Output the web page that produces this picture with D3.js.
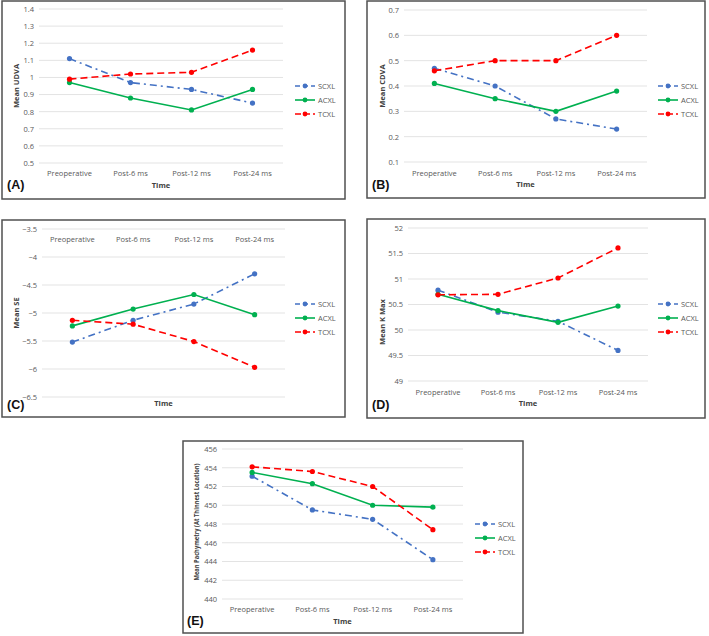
<!DOCTYPE html>
<html><head><meta charset="utf-8">
<script src="https://cdn.jsdelivr.net/npm/d3@7"></script>
<style>body{margin:0;background:#fff}svg{display:block}</style>
</head><body>
<svg id="c" width="709" height="636"></svg>
<script>
const categories = ["Preoperative","Post-6 ms","Post-12 ms","Post-24 ms"];
const seriesNames = ["SCXL","ACXL","TCXL"];

const udvaSCXL = [1.11, 0.97, 0.93, 0.85];
const udvaACXL = [0.97, 0.88, 0.81, 0.93];
const udvaTCXL = [0.99, 1.02, 1.03, 1.16];
const udvaTicks = [0.5,0.6,0.7,0.8,0.9,1,1.1,1.2,1.3,1.4];

const cdvaSCXL = [0.47, 0.40, 0.27, 0.23];
const cdvaACXL = [0.41, 0.35, 0.30, 0.38];
const cdvaTCXL = [0.46, 0.50, 0.50, 0.60];
const cdvaTicks = [0.1,0.2,0.3,0.4,0.5,0.6,0.7];

const seSCXL = [-5.52, -5.13, -4.84, -4.30];
const seACXL = [-5.23, -4.93, -4.67, -5.03];
const seTCXL = [-5.13, -5.20, -5.51, -5.97];
const seTicks = [-6.5,-6,-5.5,-5,-4.5,-4,-3.5];

const kmaxSCXL = [50.78, 50.35, 50.17, 49.60];
const kmaxACXL = [50.70, 50.38, 50.15, 50.47];
const kmaxTCXL = [50.69, 50.70, 51.02, 51.61];
const kmaxTicks = [49,49.5,50,50.5,51,51.5,52];

const pachSCXL = [453.1, 449.5, 448.5, 444.2];
const pachACXL = [453.5, 452.3, 450.0, 449.8];
const pachTCXL = [454.1, 453.6, 452.0, 447.4];
const pachTicks = [440,442,444,446,448,450,452,454,456];

const styles = {
  SCXL:{color:"#4472C4", dash:"7,4,2,4"},
  ACXL:{color:"#00B050", dash:null},
  TCXL:{color:"#FF0000", dash:"7,4"}
};

const svg = d3.select("#c");
const font = "'Open Sans', 'Liberation Sans', Arial, sans-serif";

function fmt(v){ return String(v).replace("-", "\u2212"); }

function panel(o){
  const g = svg.append("g");
  g.append("rect").attr("x",o.fx).attr("y",o.fy).attr("width",o.fw).attr("height",o.fh)
    .attr("fill","#fff").attr("stroke","#505050").attr("stroke-width",1.5);
  const x = d3.scaleBand().domain(categories).range([o.x0,o.x1]);
  const y = d3.scaleLinear().domain(o.domain).range([o.y1,o.y0]);
  g.selectAll(".grid").data(o.ticks).join("line")
    .attr("x1",o.x0).attr("x2",o.x1).attr("y1",d=>y(d)).attr("y2",d=>y(d))
    .attr("stroke","#e3e3e3").attr("stroke-width",1);
  const ya = d3.axisLeft(y).tickValues(o.ticks).tickSize(0).tickPadding(5).tickFormat(fmt);
  const yg = g.append("g").attr("transform",`translate(${o.x0},0)`).call(ya);
  yg.select(".domain").remove();
  yg.selectAll("text").attr("font-family",font).attr("font-size",7.5).attr("fill","#595959");
  const xa = d3.axisBottom(x).tickSize(0).tickPadding(0);
  const xg = g.append("g").attr("transform",`translate(0,${o.xLabY})`).call(xa);
  xg.select(".domain").remove();
  xg.selectAll("text").attr("font-family",font).attr("font-size",7.5).attr("fill","#595959").attr("dy","0.35em");
  g.append("text").attr("x",(o.x0+o.x1)/2).attr("y",o.timeY).attr("text-anchor","middle")
    .attr("dy","0.35em").attr("font-family",font).attr("font-weight","bold").attr("font-size",7.5)
    .attr("fill","#404040").text("Time");
  const yt = g.append("text").attr("transform",`translate(${o.yTitleX},${o.yTitleY}) rotate(-90)`)
    .attr("text-anchor","middle").attr("dy","0.35em").attr("font-family",font).attr("font-weight","bold")
    .attr("font-size",o.yTitleSize||7.5).attr("fill","#404040").text(o.yTitle);
  if (o.yTitleLen) yt.attr("textLength",o.yTitleLen).attr("lengthAdjust","spacingAndGlyphs");
  g.append("text").attr("x",o.labX).attr("y",o.labY).attr("dy","0.35em")
    .attr("font-family","'Liberation Sans', Arial, sans-serif").attr("font-weight","bold").attr("font-size",12.5)
    .attr("fill","#111").text(o.label);
  const line = d3.line().x((d,i)=>x(categories[i])+x.bandwidth()/2).y(d=>y(d));
  seriesNames.forEach((name,k)=>{
    const st = styles[name], vals = o.series[k];
    g.append("path").datum(vals).attr("d",line).attr("fill","none")
      .attr("stroke",st.color).attr("stroke-width",1.6).attr("stroke-dasharray",st.dash);
    g.selectAll(".pt"+name).data(vals).join("circle")
      .attr("cx",(d,i)=>x(categories[i])+x.bandwidth()/2).attr("cy",d=>y(d)).attr("r",2.6)
      .attr("fill",st.color);
    const ly = o.legY + k*14;
    g.append("line").attr("x1",o.legX).attr("x2",o.legX+20).attr("y1",ly).attr("y2",ly)
      .attr("stroke",st.color).attr("stroke-width",1.6).attr("stroke-dasharray",st.dash?(name==="SCXL"?"5,3":"6,3"):null);
    g.append("circle").attr("cx",o.legX+10).attr("cy",ly).attr("r",2.4).attr("fill",st.color);
    g.append("text").attr("x",o.legX+23).attr("y",ly).attr("dy","0.35em").attr("font-family",font)
      .attr("font-size",7.5).attr("fill","#595959").text(name);
  });
}

panel({fx:2,fy:1,fw:343,fh:198,x0:39,x1:283,y0:9,y1:163,domain:[0.5,1.4],ticks:udvaTicks,
  xLabY:173,timeY:185,yTitle:"Mean UDVA",yTitleX:16,yTitleY:86,label:"(A)",labX:7,labY:185,
  legX:295,legY:86,series:[udvaSCXL,udvaACXL,udvaTCXL]});
panel({fx:367,fy:1,fw:338,fh:197,x0:404,x1:647,y0:10,y1:162,domain:[0.1,0.7],ticks:cdvaTicks,
  xLabY:173,timeY:184,yTitle:"Mean CDVA",yTitleX:382,yTitleY:86,label:"(B)",labX:372,labY:185,
  legX:658,legY:86,series:[cdvaSCXL,cdvaACXL,cdvaTCXL]});
panel({fx:2,fy:220,fw:343,fh:197,x0:42,x1:285,y0:229,y1:397,domain:[-6.5,-3.5],ticks:seTicks,
  xLabY:239,timeY:403,yTitle:"Mean SE",yTitleX:16,yTitleY:313,label:"(C)",labX:7,labY:405,
  legX:295,legY:304,series:[seSCXL,seACXL,seTCXL]});
panel({fx:367,fy:219,fw:338,fh:199,x0:408,x1:648,y0:228,y1:381,domain:[49,52],ticks:kmaxTicks,
  xLabY:392,timeY:403,yTitle:"Mean K Max",yTitleX:382,yTitleY:322,label:"(D)",labX:372,labY:405,
  legX:658,legY:304,series:[kmaxSCXL,kmaxACXL,kmaxTCXL]});
panel({fx:183,fy:441,fw:340,fh:192,x0:222,x1:463,y0:449,y1:599,domain:[440,456],ticks:pachTicks,
  xLabY:609,timeY:621,yTitle:"Mean Pachymetry (At Thinnest Location)",yTitleX:197,yTitleY:522,yTitleSize:7,yTitleLen:117,label:"(E)",labX:187,labY:621,
  legX:475,legY:524,series:[pachSCXL,pachACXL,pachTCXL]});
</script>
</body></html>
